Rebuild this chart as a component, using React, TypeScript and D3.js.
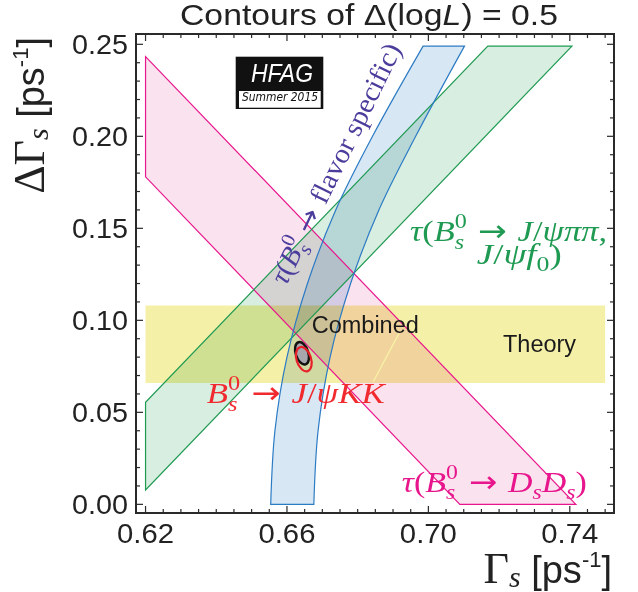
import React from "react";
import * as d3 from "d3";

const W = 638;
const H = 592;

// axes
const xDomain = [0.6173, 0.7525];
const yDomain = [-0.0047, 0.2556];
const xMajorTicks = [0.62, 0.66, 0.7, 0.74];
const xTickLabels = ["0.62", "0.66", "0.70", "0.74"];
const yMajorTicks = [0, 0.05, 0.1, 0.15, 0.2, 0.25];
const yTickLabels = ["0.00", "0.05", "0.10", "0.15", "0.20", "0.25"];
const xMinorTicks = d3.range(0, 27).map((i) => +(0.62 + i * 0.005).toFixed(3));
const yMinorTicks = d3.range(0, 26).map((i) => +(i * 0.01).toFixed(2));

// Theory band
const theoryGamma = [0.62, 0.75];
const theoryDeltaGamma = [0.066, 0.108];

// tau(Bs -> Ds Ds) band
const dsdsGamma = [0.62, 0.7417, 0.7089, 0.62];
const dsdsDeltaGamma = [0.2433, 0, 0, 0.178];

// tau(Bs -> J/psi pi pi, J/psi f0) band
const jpsiPiPiGamma = [0.62, 0.62, 0.7168, 0.7406];
const jpsiPiPiDeltaGamma = [0.0078, 0.0555, 0.249, 0.249];

// flavour specific band edges
const fsDeltaGamma = [0, 0.04, 0.08, 0.12, 0.16, 0.2, 0.249];
const fsGammaLow = [0.6554, 0.6566, 0.66, 0.6658, 0.6738, 0.6842, 0.6985];
const fsGammaHigh = [0.6676, 0.6688, 0.6722, 0.678, 0.686, 0.6964, 0.7102];

// contours: [Gamma_s, DeltaGamma_s, halfWidth(Gamma), halfHeight(DeltaGamma)]
const combinedContour = [0.66425, 0.0821, 0.00178, 0.0063];
const kkContour = [0.66476, 0.0789, 0.00204, 0.00685];

// label anchors (data coordinates)
const flavorLabelPos = [0.6598, 0.1185];
const pipiLabelPos1 = [0.6948, 0.1431];
const pipiLabelPos2 = [0.7137, 0.1306];
const kkLabelPos = [0.6373, 0.0549];
const dsdsLabelPos = [0.6925, 0.0068];
const combinedLabelPos = [0.667, 0.093];
const theoryLabelPos = [0.7211, 0.083];
const leaderLine = [
  [0.6917, 0.0929],
  [0.6844, 0.0666],
];

const L = 136, R = 614, T = 34, B = 513;

export default function App() {
  const x = d3.scaleLinear().domain(xDomain).range([L, R]);
  const y = d3.scaleLinear().domain(yDomain).range([B, T]);

  const poly = (gx: number[], gy: number[]) =>
    d3.line()(gx.map((g, i) => [x(g), y(gy[i])] as [number, number])) + "Z";

  const edge = d3.line().curve(d3.curveCatmullRom);
  const leftPts = fsGammaLow.map((g, i) => [x(g), y(fsDeltaGamma[i])] as [number, number]);
  const rightPts = fsGammaHigh
    .map((g, i) => [x(g), y(fsDeltaGamma[i])] as [number, number])
    .reverse();
  const fsPath =
    (edge(leftPts) as string) + (edge(rightPts) as string).replace(/^M/, "L") + "Z";

  const theoryPath = poly(
    [theoryGamma[0], theoryGamma[1], theoryGamma[1], theoryGamma[0]],
    [theoryDeltaGamma[0], theoryDeltaGamma[0], theoryDeltaGamma[1], theoryDeltaGamma[1]]
  );
  const dsdsPath = poly(dsdsGamma, dsdsDeltaGamma);
  const pipiPath = poly(jpsiPiPiGamma, jpsiPiPiDeltaGamma);

  const ell = (c: number[]) => ({
    cx: x(c[0]),
    cy: y(c[1]),
    rx: x(c[0] + c[2]) - x(c[0]),
    ry: y(c[1]) - y(c[1] + c[3]),
  });
  const e1 = ell(combinedContour);
  const e2 = ell(kkContour);

  const pink = "#e8168c";
  const green = "#1f9a52";
  const blue = "#2b7bc4";
  const serif = "'Liberation Serif', 'Times New Roman', serif";
  const sans = "'Liberation Sans', Arial, sans-serif";
  const dv = "'DejaVu Sans', sans-serif";

  const majLen = 7;
  const minLen = 4;
  const axisColor = "#2a2a2a";

  const BsSub = (size: number) => {
    const sub = Math.round(size * 0.7);
    return [
      <tspan key="b" fontStyle="italic">B</tspan>,
      <tspan key="s" fontStyle="italic" fontSize={sub} dy={size * 0.25}>s</tspan>,
      <tspan key="0" fontStyle="normal" fontSize={sub} dx={-sub * 0.39} dy={-size * 0.68}>0</tspan>,
      <tspan key="a" fontStyle="normal" fontFamily={dv} dy={size * 0.43}>{" \u2192 "}</tspan>,
    ];
  };

  return (
    <svg
      width={W}
      height={H}
      style={{ position: "absolute", left: 0, top: 0, background: "#fff" }}
    >
      <rect x={0} y={0} width={W} height={H} fill="#fff" />
      {/* title */}
      <text
        x={180}
        y={25}
        fontFamily={sans}
        fontSize={29}
        fill="#222"
        textLength={378}
        lengthAdjust="spacingAndGlyphs"
      >
        Contours of Δ(log<tspan fontStyle="italic">L</tspan>) = 0.5
      </text>

      {/* fills */}
      <g style={{ isolation: "isolate" }}>
        <path d={theoryPath} fill="#f5f0a8" style={{ mixBlendMode: "multiply" }} />
        <path d={dsdsPath} fill="#fbe2ef" style={{ mixBlendMode: "multiply" }} />
        <path d={pipiPath} fill="#d8eee0" style={{ mixBlendMode: "multiply" }} />
        <path d={fsPath} fill="#d8e7f4" style={{ mixBlendMode: "multiply" }} />
      </g>
      {/* strokes */}
      <path d={dsdsPath} fill="none" stroke={pink} strokeWidth={1.2} />
      <path d={pipiPath} fill="none" stroke={green} strokeWidth={1.2} />
      <path d={fsPath} fill="none" stroke={blue} strokeWidth={1.2} />
      <line
        x1={x(leaderLine[0][0])}
        y1={y(leaderLine[0][1])}
        x2={x(leaderLine[1][0])}
        y2={y(leaderLine[1][1])}
        stroke="#f8f3a6"
        strokeWidth={1.2}
      />

      {/* contours */}
      <ellipse
        cx={e1.cx}
        cy={e1.cy}
        rx={e1.rx}
        ry={e1.ry}
        transform={`rotate(-18 ${e1.cx} ${e1.cy})`}
        fill="#a6a6ac"
        stroke="#111"
        strokeWidth={2.4}
      />
      <ellipse
        cx={e2.cx}
        cy={e2.cy}
        rx={e2.rx}
        ry={e2.ry}
        transform={`rotate(-18 ${e2.cx} ${e2.cy})`}
        fill="none"
        stroke="#e8202a"
        strokeWidth={2.2}
      />

      {/* labels */}
      <text
        transform={`translate(${x(flavorLabelPos[0])},${y(flavorLabelPos[1])}) rotate(-64)`}
        fontFamily={serif}
        fontSize={28}
        fill="#4b3d9c"
        textLength={264}
        lengthAdjust="spacingAndGlyphs"
      >
        <tspan fontStyle="italic">τ</tspan>(
        {BsSub(28)}
        <tspan fontStyle="normal">flavor specific)</tspan>
      </text>

      <text
        x={x(pipiLabelPos1[0])}
        y={y(pipiLabelPos1[1])}
        fontFamily={serif}
        fontSize={30}
        fill={green}
        textLength={197}
        lengthAdjust="spacingAndGlyphs"
      >
        <tspan fontStyle="italic">τ</tspan>(
        {BsSub(30)}
        <tspan fontStyle="italic">J</tspan>/<tspan fontStyle="italic">ψππ</tspan>,
      </text>
      <text
        x={x(pipiLabelPos2[0])}
        y={y(pipiLabelPos2[1])}
        fontFamily={serif}
        fontSize={30}
        fill={green}
        textLength={85}
        lengthAdjust="spacingAndGlyphs"
      >
        <tspan fontStyle="italic">J</tspan>/<tspan fontStyle="italic">ψf</tspan>
        <tspan fontSize={21} dy={7}>0</tspan>
        <tspan dy={-7}>)</tspan>
      </text>

      <text
        x={x(kkLabelPos[0])}
        y={y(kkLabelPos[1])}
        fontFamily={serif}
        fontSize={30}
        fill="#f02a2e"
        textLength={178}
        lengthAdjust="spacingAndGlyphs"
      >
        {BsSub(30)}
        <tspan fontStyle="italic">J</tspan>/<tspan fontStyle="italic">ψKK</tspan>
      </text>

      <text
        x={x(dsdsLabelPos[0])}
        y={y(dsdsLabelPos[1])}
        fontFamily={serif}
        fontSize={30}
        fill={pink}
        textLength={185}
        lengthAdjust="spacingAndGlyphs"
      >
        <tspan fontStyle="italic">τ</tspan>(
        {BsSub(30)}
        <tspan fontStyle="italic">D</tspan>
        <tspan fontStyle="italic" fontSize={21} dy={7}>s</tspan>
        <tspan fontStyle="italic" dy={-7}>D</tspan>
        <tspan fontStyle="italic" fontSize={21} dy={7}>s</tspan>
        <tspan dy={-7}>)</tspan>
      </text>

      <text x={x(combinedLabelPos[0])} y={y(combinedLabelPos[1])} fontFamily={sans} fontSize={23.5} fill="#1a1a1a">
        Combined
      </text>
      <text x={x(theoryLabelPos[0])} y={y(theoryLabelPos[1])} fontFamily={sans} fontSize={23.5} fill="#1a1a1a">
        Theory
      </text>

      {/* HFAG logo */}
      <g>
        <rect x={235.7} y={56.7} width={87.6} height={52.3} fill="#111" />
        <rect x={239} y={91} width={81.7} height={16.7} fill="#fff" />
        <text
          x={251}
          y={82}
          fontFamily={sans}
          fontStyle="italic"
          fontSize={25}
          fill="#fff"
          textLength={62}
          lengthAdjust="spacingAndGlyphs"
        >
          HFAG
        </text>
        <text
          x={242}
          y={101}
          fontFamily={dv}
          fontStyle="italic"
          fontSize={12}
          fill="#111"
          textLength={76}
          lengthAdjust="spacingAndGlyphs"
        >
          Summer 2015
        </text>
      </g>

      {/* frame */}
      <rect x={L} y={T} width={R - L} height={B - T} fill="none" stroke={axisColor} strokeWidth={2} />
      {xMinorTicks.map((t) => {
        const len = xMajorTicks.some((m) => Math.abs(m - t) < 1e-6) ? majLen : minLen;
        return (
          <g key={"xt" + t}>
            <line x1={x(t)} x2={x(t)} y1={B} y2={B - len} stroke={axisColor} strokeWidth={1.2} />
            <line x1={x(t)} x2={x(t)} y1={T} y2={T + len} stroke={axisColor} strokeWidth={1.2} />
          </g>
        );
      })}
      {yMinorTicks.map((t) => {
        const len = yMajorTicks.some((m) => Math.abs(m - t) < 1e-6) ? majLen : minLen;
        return (
          <g key={"yt" + t}>
            <line x1={L} x2={L + len} y1={y(t)} y2={y(t)} stroke={axisColor} strokeWidth={1.2} />
            <line x1={R} x2={R - len} y1={y(t)} y2={y(t)} stroke={axisColor} strokeWidth={1.2} />
          </g>
        );
      })}
      {xMajorTicks.map((t, i) => (
        <text
          key={"xl" + t}
          x={x(t) - 28.5}
          y={543}
          fontFamily={sans}
          fontSize={27}
          fill="#222"
          textLength={57}
          lengthAdjust="spacingAndGlyphs"
        >
          {xTickLabels[i]}
        </text>
      ))}
      {yMajorTicks.map((t, i) => (
        <text
          key={"yl" + t}
          x={128 - 56}
          y={y(t) + 9.5}
          fontFamily={sans}
          fontSize={27}
          fill="#222"
          textLength={56}
          lengthAdjust="spacingAndGlyphs"
        >
          {yTickLabels[i]}
        </text>
      ))}

      {/* axis titles */}
      <text x={612} y={583} textAnchor="end" fill="#222">
        <tspan fontFamily={serif} fontSize={44}>Γ</tspan>
        <tspan fontFamily={serif} fontStyle="italic" fontSize={30} dy={4}>s</tspan>
        <tspan fontFamily={sans} fontSize={38} dy={-4}> [ps</tspan>
        <tspan fontFamily={sans} fontSize={22} dy={-16}>-1</tspan>
        <tspan fontFamily={sans} fontSize={38} dy={16}>]</tspan>
      </text>
      <text transform="translate(44,37) rotate(-90)" textAnchor="end" fill="#222">
        <tspan fontFamily={serif} fontSize={44}>ΔΓ</tspan>
        <tspan fontFamily={serif} fontStyle="italic" fontSize={30} dy={4}>s</tspan>
        <tspan fontFamily={sans} fontSize={38} dy={-4}> [ps</tspan>
        <tspan fontFamily={sans} fontSize={22} dy={-16}>-1</tspan>
        <tspan fontFamily={sans} fontSize={38} dy={16}>]</tspan>
      </text>
    </svg>
  );
}
